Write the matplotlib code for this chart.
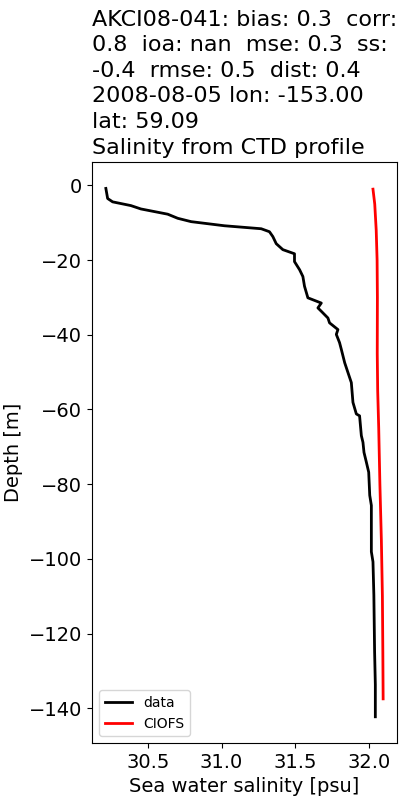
import numpy as np
import matplotlib
matplotlib.use("Agg")
import matplotlib.pyplot as plt

# Salinity profile: (salinity [psu], depth [m])
data_sal = [30.214, 30.226, 30.26, 30.384, 30.452, 30.634, 30.702, 30.793, 31.019,
            31.269, 31.325, 31.348, 31.371, 31.416, 31.495, 31.495, 31.53, 31.552,
            31.563, 31.586, 31.677, 31.654, 31.677, 31.722, 31.733, 31.79, 31.779,
            31.801, 31.813, 31.836, 31.858, 31.881, 31.892, 31.915, 31.937, 31.949,
            31.96, 31.967, 31.983, 31.999, 32.006, 32.017, 32.017, 32.028, 32.034,
            32.039, 32.044, 32.044]
data_depth = [-0.8, -3.5, -4.4, -5.4, -6.3, -7.7, -8.8, -9.7, -10.8,
              -11.6, -12.4, -13.7, -15.6, -17.2, -18.3, -20.4, -22.6, -24.4,
              -27.0, -30.1, -31.5, -32.8, -33.7, -35.5, -36.8, -38.6, -39.9,
              -42.1, -43.9, -47.5, -50.1, -52.8, -58.1, -61.2, -61.7, -67.0,
              -68.8, -71.5, -74.1, -76.8, -83.0, -85.7, -98.1, -100.8, -109.7,
              -124.8, -133.7, -142.3]

model_sal = [32.028, 32.04, 32.05, 32.056, 32.058, 32.057, 32.06, 32.067, 32.075,
             32.085, 32.092, 32.095, 32.097]
model_depth = [-1, -5, -12, -20, -30, -45, -55, -65, -80, -95, -110, -125, -137.5]

title = ("AKCI08-041: bias: 0.3  corr:\n0.8  ioa: nan  mse: 0.3  ss:\n"
         "-0.4  rmse: 0.5  dist: 0.4\n2008-08-05 lon: -153.00\nlat: 59.09\n"
         "Salinity from CTD profile")

fig = plt.figure(figsize=(4, 8), dpi=100)
ax = fig.add_axes([0.23, 0.071, 0.7625, 0.7265])

ax.plot(data_sal, data_depth, color="k", lw=2, label="data")
ax.plot(model_sal, model_depth, color="r", lw=2, label="CIOFS")

ax.set_xlabel("Sea water salinity [psu]", fontsize=14)
ax.set_ylabel("Depth [m]", fontsize=14)
ax.tick_params(labelsize=14)
ax.set_xticks([30.5, 31.0, 31.5, 32.0])
ax.set_title(title, loc="left", fontsize=16, linespacing=1.35)
ax.legend(loc="lower left", fontsize=10)

fig.savefig("out.png")
